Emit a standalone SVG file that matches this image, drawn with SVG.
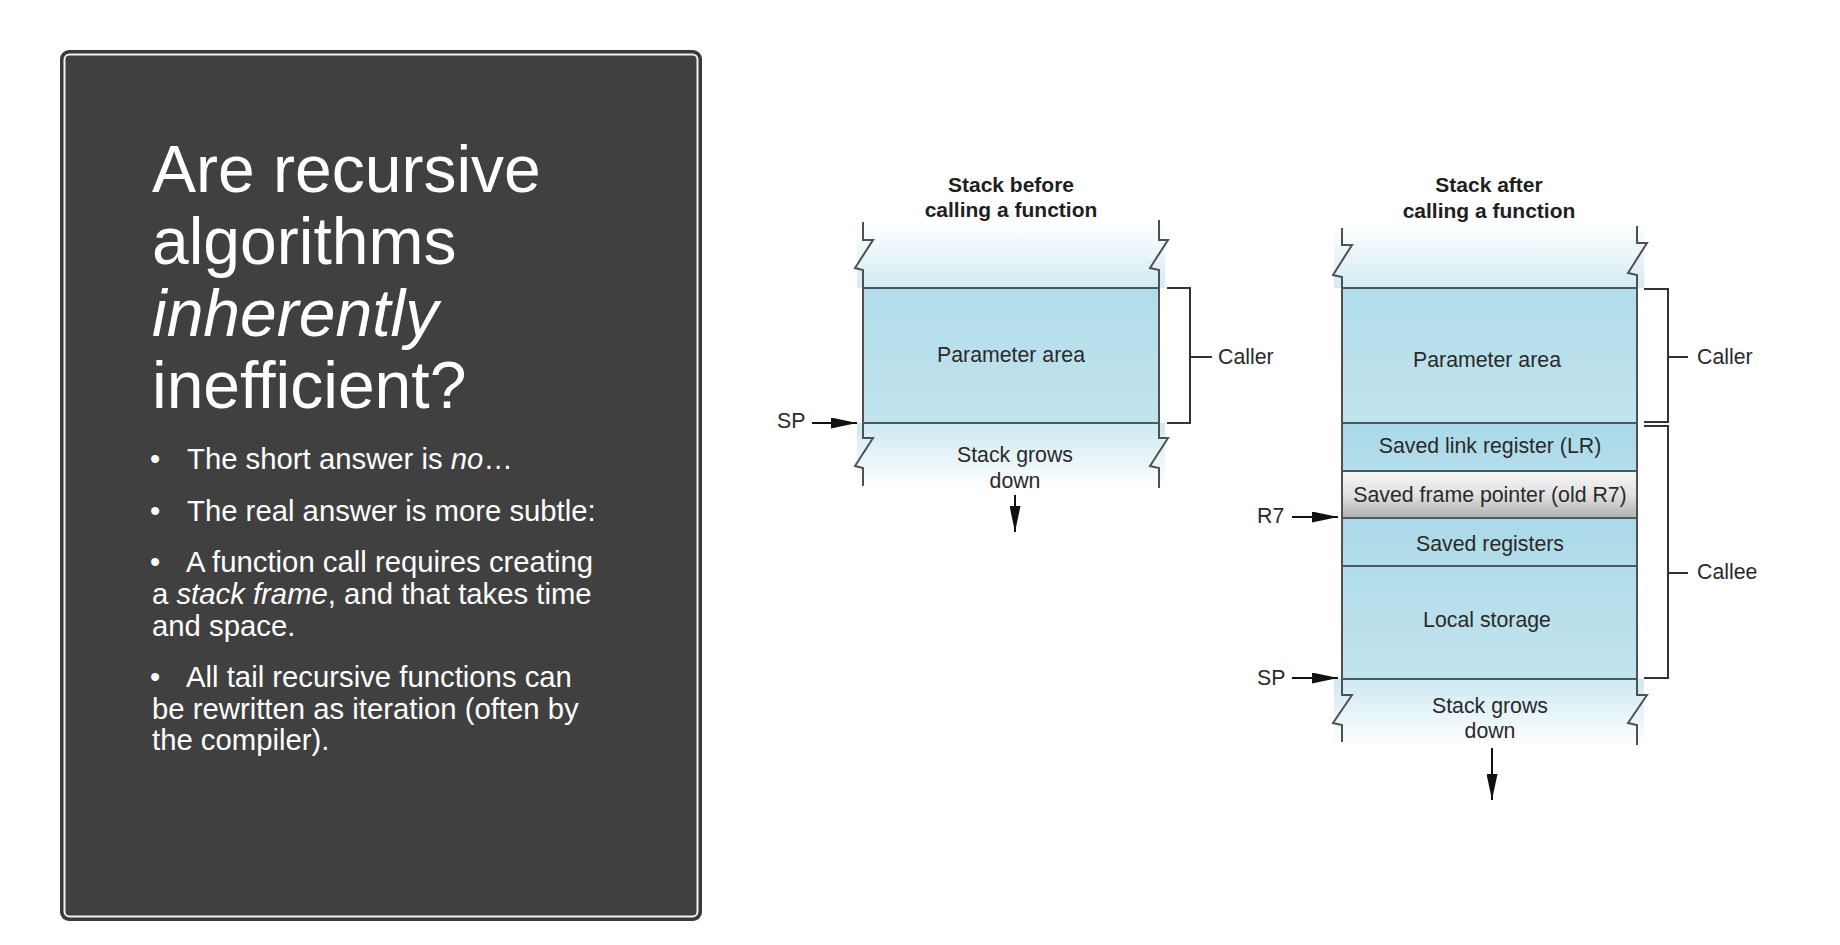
<svg xmlns="http://www.w3.org/2000/svg" width="1840" height="945" viewBox="0 0 1840 945">
<style>
  .title{font-family:"Liberation Sans",Arial,sans-serif;font-size:66px;fill:#ffffff}
  .bul{font-family:"Liberation Sans",Arial,sans-serif;font-size:29.3px;fill:#ffffff}
  .hd{font-family:"Liberation Sans",Arial,sans-serif;font-size:21px;font-weight:bold;fill:#1e1e1e;text-anchor:middle}
  .lbl{font-family:"Liberation Sans",Arial,sans-serif;font-size:21.3px;fill:#2a2a2a;text-anchor:middle}
  .side{font-family:"Liberation Sans",Arial,sans-serif;font-size:21.3px;fill:#2a2a2a}
  .edge{fill:none;stroke:#505050;stroke-width:2}
  .div{stroke:#4a5a60;stroke-width:2}
  .brk{fill:none;stroke:#333333;stroke-width:2}
  .arr{stroke:#111111;stroke-width:2;marker-end:url(#ah)}
</style>
<defs>
  <marker id="ah" viewBox="0 0 26 11" refX="26" refY="5.5" markerWidth="26" markerHeight="11" markerUnits="userSpaceOnUse" orient="auto">
    <path d="M0,0 L26,5.5 L0,11 z" fill="#111111"/>
  </marker>
  <linearGradient id="fadeTop" x1="0" y1="0" x2="0" y2="1">
    <stop offset="0" stop-color="#ffffff"/>
    <stop offset="1" stop-color="#d2ebf3"/>
  </linearGradient>
  <linearGradient id="fadeBot" x1="0" y1="0" x2="0" y2="1">
    <stop offset="0" stop-color="#cde9f2"/>
    <stop offset="1" stop-color="#ffffff"/>
  </linearGradient>
  <linearGradient id="blue" x1="0" y1="0" x2="0" y2="1">
    <stop offset="0" stop-color="#b1dcea"/>
    <stop offset="1" stop-color="#c3e4ee"/>
  </linearGradient>
  <linearGradient id="blue2" x1="0" y1="0" x2="0" y2="1">
    <stop offset="0" stop-color="#aad9e8"/>
    <stop offset="1" stop-color="#b4ddea"/>
  </linearGradient>
  <linearGradient id="gray" x1="0" y1="0" x2="0" y2="1">
    <stop offset="0" stop-color="#f6f6f6"/>
    <stop offset="0.5" stop-color="#e2e2e2"/>
    <stop offset="1" stop-color="#b0b0b0"/>
  </linearGradient>
</defs>

<rect width="1840" height="945" fill="#ffffff"/>

<g id="panel">
  <rect x="60" y="50" width="642" height="871" rx="9" fill="#3a3a3a"/>
  <rect x="64.5" y="54.5" width="633" height="862" rx="5" fill="#404040" stroke="#f2f2f2" stroke-width="2"/>
  <text class="title" x="152" y="192">Are recursive</text>
  <text class="title" x="152" y="264">algorithms</text>
  <text class="title" x="152" y="336" font-style="italic">inherently</text>
  <text class="title" x="152" y="408">inefficient?</text>
  <g id="bullets">
    <text class="bul" x="150" y="469">•</text>
    <text class="bul" x="187" y="469">The short answer is <tspan font-style="italic">no</tspan>…</text>
    <text class="bul" x="150" y="521">•</text>
    <text class="bul" x="187" y="521">The real answer is more subtle:</text>
    <text class="bul" x="150" y="572">•</text>
    <text class="bul" x="186" y="572">A function call requires creating</text>
    <text class="bul" x="152" y="604">a <tspan font-style="italic">stack frame</tspan>, and that takes time</text>
    <text class="bul" x="152" y="636">and space.</text>
    <text class="bul" x="150" y="687">•</text>
    <text class="bul" x="186" y="687">All tail recursive functions can</text>
    <text class="bul" x="152" y="719">be rewritten as iteration (often by</text>
    <text class="bul" x="152" y="750">the compiler).</text>
  </g>
</g>

<g id="stack-before">
  <rect x="857" y="222" width="308" height="66" fill="url(#fadeTop)"/>
  <rect x="863" y="288" width="296" height="135" fill="url(#blue)"/>
  <rect x="857" y="423" width="308" height="66" fill="url(#fadeBot)"/>
  <line class="div" x1="863" y1="288" x2="1159" y2="288"/>
  <line class="div" x1="863" y1="423" x2="1159" y2="423"/>
  <path class="edge" d="M863,222 V240 L873,240 L855,268 L863,270 V438 L873,438 L855,466 L863,468 V486"/>
  <path class="edge" d="M1159,220 V240 L1168,240 L1150,268 L1159,270 V438 L1168,438 L1150,466 L1159,468 V488"/>
  <text class="hd" x="1011" y="192">Stack before</text>
  <text class="hd" x="1011" y="217">calling a function</text>
  <text class="lbl" x="1011" y="362">Parameter area</text>
  <text class="lbl" x="1015" y="462">Stack grows</text>
  <text class="lbl" x="1015" y="488">down</text>
  <text class="side" x="777" y="428">SP</text>
  <text class="side" x="1218" y="364">Caller</text>
</g>

<g id="stack-after">
  <rect x="1334" y="224" width="310" height="64" fill="url(#fadeTop)"/>
  <rect x="1342" y="288" width="295" height="135" fill="url(#blue)"/>
  <rect x="1342" y="423" width="295" height="48" fill="url(#blue2)"/>
  <rect x="1342" y="471" width="295" height="47" fill="url(#gray)"/>
  <rect x="1342" y="518" width="295" height="48" fill="url(#blue2)"/>
  <rect x="1342" y="566" width="295" height="113" fill="url(#blue)"/>
  <rect x="1334" y="679" width="310" height="68" fill="url(#fadeBot)"/>
  <line class="div" x1="1342" y1="288" x2="1637" y2="288"/>
  <line class="div" x1="1342" y1="423" x2="1637" y2="423"/>
  <line class="div" x1="1342" y1="471" x2="1637" y2="471"/>
  <line class="div" x1="1342" y1="518" x2="1637" y2="518"/>
  <line class="div" x1="1342" y1="566" x2="1637" y2="566"/>
  <line class="div" x1="1342" y1="679" x2="1637" y2="679"/>
  <path class="edge" d="M1342,228 V245 L1352,245 L1333,275 L1342,277 V695 L1352,695 L1333,723 L1342,725 V742"/>
  <path class="edge" d="M1637,226 V243 L1647,243 L1628,273 L1637,275 V695 L1647,695 L1628,723 L1637,725 V745"/>
  <text class="hd" x="1489" y="192">Stack after</text>
  <text class="hd" x="1489" y="218">calling a function</text>
  <text class="lbl" x="1487" y="367">Parameter area</text>
  <text class="lbl" x="1490" y="453">Saved link register (LR)</text>
  <text class="lbl" x="1490" y="502">Saved frame pointer (old R7)</text>
  <text class="lbl" x="1490" y="551">Saved registers</text>
  <text class="lbl" x="1487" y="627">Local storage</text>
  <text class="lbl" x="1490" y="713">Stack grows</text>
  <text class="lbl" x="1490" y="738">down</text>
  <text class="side" x="1257" y="523">R7</text>
  <text class="side" x="1257" y="685">SP</text>
  <text class="side" x="1697" y="364">Caller</text>
  <text class="side" x="1697" y="579">Callee</text>
</g>

<g id="connectors">
  <line class="arr" x1="812" y1="423" x2="857" y2="423"/>
  <line class="arr" x1="1015" y1="495" x2="1015" y2="532"/>
  <path class="brk" d="M1167,288 H1190 V423 H1167 M1190,357 H1212"/>
  <line class="arr" x1="1292" y1="517" x2="1338" y2="517"/>
  <line class="arr" x1="1292" y1="678" x2="1338" y2="678"/>
  <line class="arr" x1="1492" y1="748" x2="1492" y2="800"/>
  <path class="brk" d="M1644,289 H1668 V422 H1644 M1668,357 H1688"/>
  <path class="brk" d="M1644,426 H1668 V678 H1644 M1668,573 H1688"/>
</g>
</svg>
